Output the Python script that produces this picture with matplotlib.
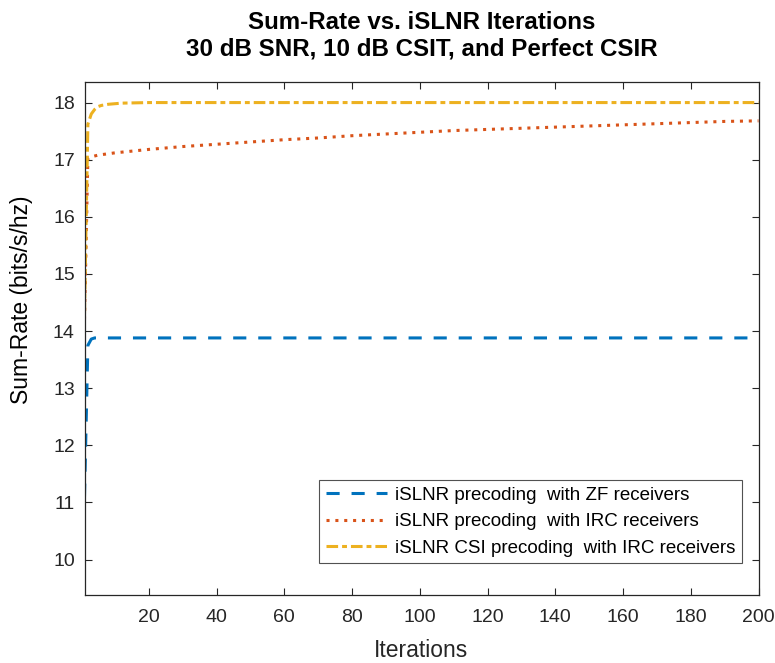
import matplotlib.pyplot as plt
import numpy as np

plt.rcParams["font.family"] = ["Liberation Sans", "DejaVu Sans"]

# iSLNR iterations and the sum-rate reached (bits/s/hz)
iters_zf = [1, 2, 3, 4, 5, 10, 50, 100, 150, 200]
rate_zf = [11.1, 13.75, 13.86, 13.88, 13.88, 13.88, 13.88, 13.88, 13.88, 13.88]

iters_irc = [1, 2, 3, 5, 10, 20, 30, 40, 50, 60, 70, 80, 90, 100,
             110, 120, 130, 140, 150, 160, 170, 180, 190, 200]
rate_irc = [14.2, 17.03, 17.05, 17.08, 17.12, 17.18, 17.23, 17.27, 17.31,
            17.35, 17.38, 17.42, 17.45, 17.48, 17.51, 17.53, 17.55, 17.57,
            17.59, 17.61, 17.63, 17.65, 17.67, 17.68]

iters_csi = [1, 2, 3, 4, 5, 6, 8, 12, 20, 50, 100, 150, 200]
rate_csi = [14.3, 17.62, 17.8, 17.88, 17.93, 17.95, 17.97, 17.99, 18.0,
            18.0, 18.0, 18.0, 18.0]

labels = ["iSLNR precoding  with ZF receivers",
          "iSLNR precoding  with IRC receivers",
          "iSLNR CSI precoding  with IRC receivers"]

axis_grey = "#262626"

fig = plt.figure(figsize=(7.75, 6.63), dpi=100)
ax = fig.add_axes([84.5 / 775, 68 / 663, 674 / 775, 513 / 663])

ax.plot(iters_zf, rate_zf, color="#0072BD", lw=2.2,
        linestyle=(0, (4.3, 3.9)), label=labels[0])
ax.plot(iters_irc, rate_irc, color="#D95319", lw=2.2,
        linestyle=(0, (1.0, 1.9)), label=labels[1])
ax.plot(iters_csi, rate_csi, color="#EDB120", lw=2.2,
        linestyle=(0, (3.8, 1.3, 1.6, 1.3)), label=labels[2])

ax.set_xlim(1, 200)
ax.set_ylim(9.38, 18.36)
ax.set_xticks(np.arange(20, 201, 20))
ax.set_yticks(np.arange(10, 19, 1))

ax.tick_params(direction="in", length=5, width=0.8, colors=axis_grey,
               labelsize=14, top=True, right=True)
ax.tick_params(axis="x", pad=10)
ax.tick_params(axis="y", pad=7)
for sp in ax.spines.values():
    sp.set_color(axis_grey)
    sp.set_linewidth(0.9)

ax.set_title("Sum-Rate vs. iSLNR Iterations\n30 dB SNR, 10 dB CSIT, and Perfect CSIR",
             fontsize=17.4, fontweight="bold", pad=19, linespacing=1.2)
ax.set_xlabel("Iterations", fontsize=16.5, color=axis_grey)
ax.set_ylabel("Sum-Rate (bits/s/hz)", fontsize=16.5, color="black")
ax.xaxis.set_label_coords(0.5, -0.085)
ax.yaxis.set_label_coords(-0.076, 0.575)

leg = ax.legend(loc="lower right", bbox_to_anchor=(0.976, 0.062),
                fontsize=13.5, frameon=True, fancybox=False, handlelength=3.25,
                borderpad=0.35, labelspacing=0.5, handletextpad=0.45,
                borderaxespad=0)
leg.get_frame().set_edgecolor(axis_grey)
leg.get_frame().set_linewidth(0.8)

fig.savefig("out.png", dpi=100)
